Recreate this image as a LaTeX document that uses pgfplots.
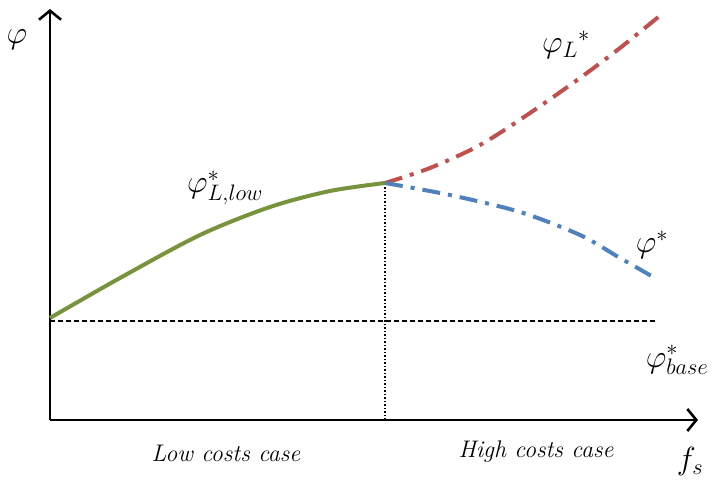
\RequirePackage{fix-cm}
\documentclass[border=0pt]{standalone}
\usepackage{fontspec}
\usepackage{pgfplots}
\pgfplotsset{compat=1.18}
\usetikzlibrary{arrows.meta}
\definecolor{cgreen}{HTML}{77933C}
\definecolor{cred}{HTML}{C0504D}
\definecolor{cblue}{HTML}{4F81BD}
\tikzset{lbl/.style={font=\fontsize{24}{30}\selectfont},
         mlbl/.style={font=\fontsize{32}{36}\selectfont}}
\begin{document}
\begin{tikzpicture}
\begin{axis}[
    x=1pt, y=1pt,
    xmin=50, xmax=698, ymin=59, ymax=470,
    axis x line=bottom, axis y line=left,
    axis line style={line width=2.6pt, -{Straight Barb[length=9pt,width=22pt,line width=2.6pt]}},
    xtick=\empty, ytick=\empty,
    clip=false,
]
% invisible frame for picture size
\path (axis cs:0,0) rectangle (axis cs:716,479);
% base line and split
\addplot[black, line width=1.3pt, dash pattern=on 5pt off 3pt] coordinates {(50,158) (655,158)};
\addplot[black, line width=1.3pt, dash pattern=on 1.5pt off 2pt] coordinates {(385,59) (385,296)};
% low cost
\addplot[cgreen, line width=4pt, smooth] coordinates {
  (50,161) (120,201) (200,244) (270,272) (330,288) (385,296)};
% high cost, L
\addplot[cred, line width=4pt, smooth, dash pattern=on 18pt off 8pt on 4pt off 8pt] coordinates {
  (385,296) (430,311) (480,334) (530,366) (580,401) (620,431) (662,465)};
% high cost
\addplot[cblue, line width=4pt, smooth, dash pattern=on 18pt off 8pt on 4pt off 8pt] coordinates {
  (385,296) (450,284) (520,267) (580,244) (620,221) (655,201)};
\node[mlbl] at (axis cs:17,439) {$\varphi$};
\node[mlbl] at (axis cs:225,291) {$\varphi^*_{L,low}$};
\node[mlbl] at (axis cs:566,434) {$\varphi_L{}^*$};
\node[mlbl] at (axis cs:652,234) {$\varphi^*$};
\node[mlbl] at (axis cs:677,119) {$\varphi^*_{base}$};
\node[lbl] at (axis cs:226,26) {\itshape Low costs case};
\node[lbl] at (axis cs:536,27) {\itshape High costs case};
\node[mlbl] at (axis cs:690,17) {$f_s$};
\end{axis}
\end{tikzpicture}
\end{document}
